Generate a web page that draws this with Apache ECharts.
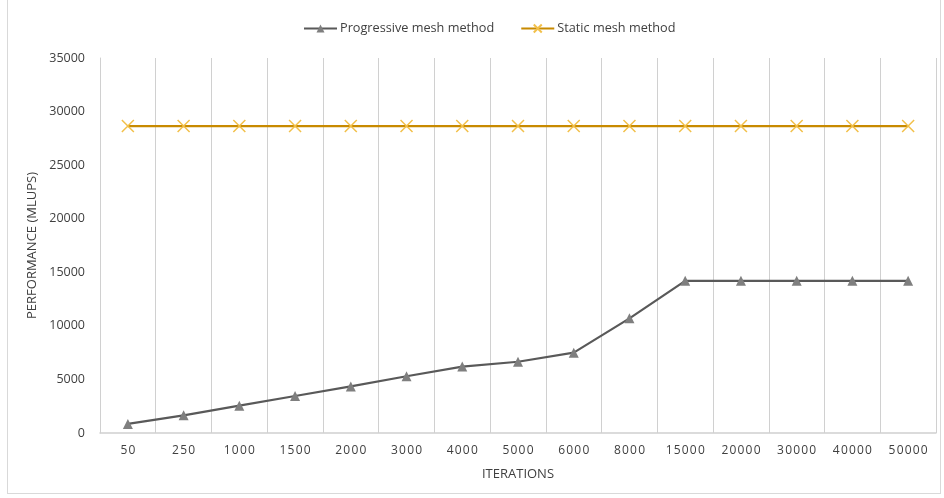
<!DOCTYPE html>
<html><head><meta charset="utf-8">
<script src="https://cdn.jsdelivr.net/npm/echarts@6/dist/echarts.min.js"></script>
<style>
html,body{margin:0;padding:0;background:#fff;}
#frame{position:absolute;left:7px;top:0;width:934px;height:494px;border:1px solid #d9d9d9;border-top:none;box-sizing:border-box;}
#chart{width:944px;height:498px;position:absolute;left:0;top:0;}
</style></head>
<body>
<div id="frame"></div>
<div id="chart"></div>
<script>
const categories = ['50','250','1000','1500','2000','3000','4000','5000','6000','8000','15000','20000','30000','40000','50000'];
const progressive = [850,1650,2550,3450,4350,5300,6200,6650,7500,10700,14200,14200,14200,14200,14200];
const staticMesh = [28650,28650,28650,28650,28650,28650,28650,28650,28650,28650,28650,28650,28650,28650,28650];
const yTicks = {min:0, max:35000, interval:5000};

const font = 'Open Sans';
const chart = echarts.init(document.getElementById('chart'));
chart.setOption({
  animation:false,
  textStyle:{fontFamily:font},
  legend:{
    top:17, left:298, itemGap:26, itemWidth:33, itemHeight:10,
    textStyle:{fontSize:12.7,color:'#404040',fontFamily:font,padding:[0,0,0,-2]},
    data:['Progressive mesh method','Static mesh method']
  },
  grid:{left:100,right:8,top:58,bottom:65,containLabel:false},
  xAxis:{
    type:'category', data:categories, boundaryGap:true,
    name:'ITERATIONS', nameLocation:'middle', nameGap:35,
    nameTextStyle:{fontSize:13,color:'#404040',fontFamily:font},
    axisLine:{lineStyle:{color:'#d0d0d0',width:1.5}},
    axisTick:{show:false},
    axisLabel:{interval:0,fontSize:12,color:'#404040',margin:12,fontFamily:font,
      formatter:v=>v.split('').join('\u200A')},
    splitLine:{show:true,interval:0,lineStyle:{color:'#d0d0d0',width:1}}
  },
  yAxis:{
    type:'value', min:yTicks.min, max:yTicks.max, interval:yTicks.interval,
    name:'PERFORMANCE (MLUPS)', nameLocation:'middle', nameGap:55,
    nameTextStyle:{fontSize:13,color:'#404040',fontFamily:font},
    axisLine:{show:true,lineStyle:{color:'#d0d0d0',width:1}},
    axisTick:{show:false},
    axisLabel:{fontSize:12.5,color:'#404040',margin:15,fontFamily:font,formatter:v=>String(v)},
    splitLine:{show:false}
  },
  series:[
    {
      name:'Progressive mesh method', type:'line', data:progressive,
      symbol:'triangle', symbolSize:10,
      lineStyle:{color:'#595959',width:2.2},
      itemStyle:{color:'#7f7f7f'}
    },
    {
      name:'Static mesh method', type:'line', data:staticMesh,
      symbol:'path://M0,0L10,10M10,0L0,10', symbolSize:12,
      lineStyle:{color:'#c88a00',width:2.2},
      itemStyle:{color:'none',borderColor:'#f2c04a',borderWidth:1.5}
    }
  ]
});
</script>
</body></html>
